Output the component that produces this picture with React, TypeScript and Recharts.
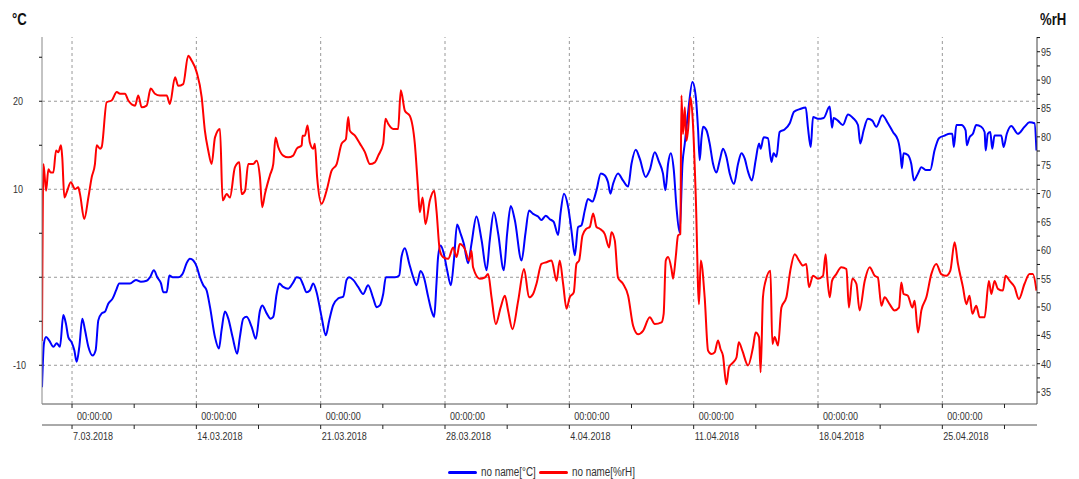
import { Line, LineChart, ReferenceLine, XAxis, YAxis } from "recharts";

const FONT = '"Liberation Sans", Arial, sans-serif';
// the labels use a narrow face; squeeze the regular one horizontally
const NARROW = 0.82;
const TEMP_COLOR = "#0000ff";
const RH_COLOR = "#ff0000";

// x values are days counted from 1 March 2018 00:00
const dayDomain: [number, number] = [4.31, 60.33];
const weekTicks = [6, 13, 20, 27, 34, 41, 48, 55];
const halfWeekTicks = [9.5, 16.5, 23.5, 30.5, 37.5, 44.5, 51.5, 58.5];
const dateLabels = [
  "7.03.2018",
  "14.03.2018",
  "21.03.2018",
  "28.03.2018",
  "4.04.2018",
  "11.04.2018",
  "18.04.2018",
  "25.04.2018",
];
const timeLabel = "00:00:00";

const tempDomain: [number, number] = [-14.4, 27.3];
const tempTicks = [-10, -5, 0, 5, 10, 15, 20, 25];
const tempLabelled = [-10, 10, 20];
const tempGrid = [-10, 0, 10, 20];

const rhDomain: [number, number] = [32.9, 97.6];
const rhTicks = [
  35, 37.5, 40, 42.5, 45, 47.5, 50, 52.5, 55, 57.5, 60, 62.5, 65, 67.5, 70,
  72.5, 75, 77.5, 80, 82.5, 85, 87.5, 90, 92.5, 95, 97.5,
];

const seriesNames = ["no name[°C]", "no name[%rH]"];

// [day, °C]
const tempReadings: [number, number][] = [
  [4.31, -12.5], [4.42, -7.5], [4.54, -6.8], [4.72, -7.2], [4.95, -7.9], [5.14, -7.5],
  [5.32, -7.9], [5.51, -4.3], [5.66, -5.3], [5.79, -6.8], [5.98, -7.4], [6.13, -8.3],
  [6.26, -9.6], [6.41, -7.9], [6.58, -4.7], [6.73, -6.0], [6.92, -7.9], [7.16, -8.9],
  [7.33, -8.3], [7.48, -4.9], [7.67, -4.1], [7.86, -3.9], [8.04, -3.0], [8.29, -2.4],
  [8.48, -1.5], [8.66, -0.7], [8.98, -0.7], [9.26, -0.7], [9.6, -0.3], [9.88, -0.5],
  [10.2, -0.4], [10.39, 0.0], [10.61, 0.8], [10.8, 0.0], [11.01, -0.7], [11.14, -1.7],
  [11.33, -1.7], [11.48, 0.2], [11.67, 0.0], [11.98, 0.0], [12.23, 0.4], [12.45, 1.6],
  [12.64, 2.1], [12.83, 1.9], [13.02, 1.2], [13.2, 0.0], [13.39, -0.9], [13.58, -1.5],
  [13.77, -3.4], [14.05, -6.8], [14.27, -8.1], [14.42, -6.0], [14.61, -3.9], [14.8, -4.7],
  [15.04, -6.8], [15.3, -8.7], [15.45, -6.8], [15.64, -4.7], [15.83, -4.5], [16.11, -5.6],
  [16.35, -7.0], [16.58, -3.8], [16.71, -3.2], [16.96, -4.1], [17.18, -4.7], [17.33, -4.5],
  [17.52, -1.9], [17.67, -0.7], [17.89, -1.1], [18.17, -1.3], [18.45, -0.6], [18.65, 0.0],
  [18.83, -0.1], [19.02, -0.9], [19.21, -1.7], [19.39, -1.5], [19.58, -0.7], [19.77, -1.7],
  [20.05, -4.5], [20.29, -6.6], [20.48, -4.9], [20.7, -3.2], [20.99, -2.4], [21.27, -2.2],
  [21.46, -0.3], [21.6, 0.0], [21.83, -0.3], [22.11, -1.1], [22.39, -1.9], [22.67, -0.9],
  [22.96, -2.4], [23.15, -3.4], [23.33, -3.2], [23.52, -1.9], [23.67, 0.0], [23.9, 0.0],
  [24.18, 0.0], [24.42, 0.2], [24.55, 2.3], [24.74, 3.3], [24.98, 1.6], [25.21, 0.0],
  [25.4, -0.9], [25.62, 0.7], [25.81, 0.0], [26.05, -2.2], [26.24, -3.8], [26.39, -4.5],
  [26.52, -0.7], [26.61, 2.3], [26.75, 3.6], [26.93, 2.7], [27.12, 0.8], [27.33, -0.9],
  [27.5, 1.9], [27.68, 6.0], [27.87, 5.0], [28.06, 3.8], [28.3, 1.6], [28.49, 3.8],
  [28.77, 6.9], [29.06, 4.2], [29.34, 0.8], [29.52, 4.2], [29.75, 7.4], [29.99, 5.0],
  [30.31, 0.8], [30.5, 5.0], [30.7, 8.1], [30.93, 6.5], [31.31, 1.9], [31.53, 5.0],
  [31.73, 7.6], [31.96, 7.2], [32.24, 6.9], [32.43, 6.5], [32.67, 7.0], [32.9, 6.6],
  [33.12, 6.3], [33.37, 4.8], [33.5, 7.2], [33.7, 9.5], [33.93, 8.0], [34.12, 5.3],
  [34.31, 2.5], [34.49, 5.7], [34.68, 5.9], [34.87, 7.6], [35.05, 8.9], [35.3, 8.6],
  [35.53, 9.9], [35.77, 11.8], [35.99, 11.6], [36.18, 10.8], [36.31, 9.5], [36.46, 10.6],
  [36.74, 11.8], [37.02, 11.0], [37.31, 10.3], [37.5, 12.9], [37.74, 14.5], [37.96, 13.5],
  [38.3, 11.4], [38.53, 12.2], [38.81, 14.2], [39.05, 13.1], [39.27, 11.8], [39.41, 9.9],
  [39.56, 12.9], [39.71, 14.1], [39.88, 12.2], [40.03, 8.0], [40.21, 5.1], [40.37, 12.9],
  [40.5, 15.2], [40.68, 18.6], [40.93, 22.2], [41.12, 20.5], [41.25, 16.7], [41.34, 13.3],
  [41.44, 15.8], [41.53, 17.1], [41.72, 16.7], [41.9, 15.2], [42.09, 12.9], [42.28, 11.9],
  [42.47, 13.3], [42.65, 14.6], [42.84, 13.7], [43.03, 11.8], [43.27, 10.6], [43.5, 12.9],
  [43.69, 14.1], [43.87, 13.5], [44.06, 12.0], [44.28, 11.0], [44.49, 13.3], [44.68, 15.2],
  [44.77, 14.6], [44.94, 15.9], [45.18, 15.8], [45.38, 13.1], [45.5, 14.1], [45.66, 13.7],
  [45.84, 16.5], [46.12, 16.8], [46.41, 17.5], [46.65, 18.8], [46.97, 19.1], [47.31, 19.3],
  [47.43, 17.1], [47.59, 14.8], [47.72, 18.2], [48.0, 18.0], [48.32, 18.1], [48.66, 19.4],
  [48.79, 17.0], [48.88, 18.1], [49.12, 17.8], [49.4, 17.3], [49.69, 18.5], [49.97, 18.1],
  [50.25, 17.3], [50.38, 15.2], [50.57, 16.7], [50.81, 18.0], [51.06, 17.8], [51.28, 17.1],
  [51.62, 18.4], [51.94, 17.5], [52.22, 16.5], [52.5, 15.6], [52.65, 13.9], [52.72, 12.4],
  [52.82, 14.1], [53.06, 13.9], [53.25, 12.9], [53.4, 11.0], [53.63, 11.8], [53.82, 12.5],
  [54.06, 12.2], [54.32, 12.2], [54.56, 14.4], [54.81, 15.8], [55.13, 16.1], [55.41, 16.3],
  [55.56, 16.3], [55.65, 14.8], [55.79, 17.3], [56.07, 17.3], [56.31, 16.7], [56.38, 15.0],
  [56.53, 15.9], [56.72, 16.3], [56.91, 17.3], [57.19, 17.1], [57.38, 16.5], [57.44, 14.4],
  [57.56, 16.3], [57.7, 16.5], [57.81, 14.6], [57.94, 16.1], [58.32, 16.1], [58.45, 14.8],
  [58.63, 16.3], [58.88, 17.2], [59.25, 16.3], [59.63, 17.1], [59.91, 17.6], [60.19, 17.5],
  [60.3, 14.4],
];

// [day, %rH]
const rhReadings: [number, number][] = [
  [4.31, 44.0], [4.39, 75.2], [4.54, 70.5], [4.67, 74.3], [4.8, 73.7], [4.95, 73.7],
  [5.1, 77.6], [5.23, 77.3], [5.38, 78.5], [5.45, 76.4], [5.57, 69.3], [5.7, 70.2],
  [5.93, 72.0], [6.17, 70.8], [6.35, 71.1], [6.45, 69.9], [6.69, 65.5], [6.92, 69.3],
  [7.11, 72.9], [7.29, 75.2], [7.39, 78.5], [7.58, 77.9], [7.67, 78.2], [7.95, 86.1],
  [8.23, 86.4], [8.52, 87.9], [8.7, 87.6], [8.98, 87.6], [9.17, 86.4], [9.55, 85.5],
  [9.73, 87.3], [9.92, 85.2], [10.2, 85.5], [10.43, 88.5], [10.67, 87.6], [10.95, 87.3],
  [11.33, 87.3], [11.51, 85.8], [11.8, 90.5], [11.98, 89.0], [12.26, 89.3], [12.54, 94.3],
  [12.74, 93.4], [13.02, 91.4], [13.3, 87.0], [13.48, 81.1], [13.67, 77.6], [13.86, 75.2],
  [14.05, 79.9], [14.33, 81.4], [14.48, 68.8], [14.71, 69.9], [14.89, 69.3], [15.17, 74.6],
  [15.42, 75.5], [15.55, 69.9], [15.74, 70.5], [15.92, 75.2], [16.2, 75.2], [16.39, 75.8],
  [16.58, 72.9], [16.71, 67.6], [16.86, 69.9], [17.14, 73.2], [17.33, 75.2], [17.46, 79.9],
  [17.61, 78.2], [17.89, 76.7], [18.17, 76.4], [18.45, 76.7], [18.65, 77.9], [18.93, 78.5],
  [18.98, 80.2], [19.11, 80.2], [19.26, 82.0], [19.39, 79.0], [19.58, 77.9], [19.67, 78.8],
  [19.8, 72.9], [20.05, 68.2], [20.33, 70.5], [20.61, 74.0], [20.9, 75.2], [21.18, 78.8],
  [21.42, 79.6], [21.55, 83.5], [21.64, 81.1], [21.93, 80.2], [22.21, 78.8], [22.49, 77.3],
  [22.77, 75.2], [23.05, 75.5], [23.24, 76.7], [23.52, 78.8], [23.65, 83.2], [23.8, 82.3],
  [24.08, 81.4], [24.36, 81.4], [24.51, 88.2], [24.74, 84.6], [25.02, 83.7], [25.3, 78.8],
  [25.49, 70.5], [25.58, 66.7], [25.74, 69.3], [25.9, 64.6], [26.15, 68.8], [26.39, 70.5],
  [26.52, 67.0], [26.71, 59.9], [26.89, 58.8], [27.18, 58.5], [27.46, 60.5], [27.65, 58.8],
  [27.83, 61.1], [28.12, 60.2], [28.36, 58.2], [28.49, 59.9], [28.58, 57.0], [28.96, 55.0],
  [29.24, 55.2], [29.43, 55.8], [29.62, 51.7], [29.86, 47.0], [30.13, 49.9], [30.37, 52.0],
  [30.55, 49.4], [30.8, 46.1], [31.12, 51.1], [31.45, 56.7], [31.73, 51.7], [31.96, 52.3],
  [32.15, 54.1], [32.43, 57.6], [32.71, 57.9], [33.0, 58.2], [33.28, 54.6], [33.46, 58.2],
  [33.65, 54.1], [33.84, 49.7], [34.02, 51.7], [34.25, 52.6], [34.4, 57.6], [34.55, 58.2],
  [34.74, 62.6], [34.96, 63.8], [35.15, 64.1], [35.34, 66.5], [35.53, 64.1], [35.71, 63.8],
  [35.99, 62.9], [36.24, 60.5], [36.37, 63.2], [36.56, 61.7], [36.74, 55.2], [37.02, 54.1],
  [37.31, 52.0], [37.59, 46.7], [37.87, 45.2], [38.15, 45.8], [38.53, 48.2], [38.81, 47.0],
  [39.19, 47.3], [39.31, 48.8], [39.43, 58.2], [39.56, 58.8], [39.75, 56.7], [39.84, 55.0],
  [39.99, 58.8], [40.12, 62.6], [40.25, 62.9], [40.31, 87.3], [40.4, 80.5], [40.5, 85.2],
  [40.59, 79.3], [40.68, 81.1], [40.83, 87.0], [40.96, 82.3], [41.12, 69.3], [41.3, 50.5],
  [41.4, 58.2], [41.62, 51.7], [41.81, 42.3], [42.0, 41.7], [42.18, 42.0], [42.37, 44.1],
  [42.51, 42.6], [42.65, 41.4], [42.84, 36.4], [42.99, 39.4], [43.21, 40.2], [43.41, 41.1],
  [43.54, 43.8], [43.74, 42.3], [44.06, 39.7], [44.34, 42.9], [44.49, 45.5], [44.68, 44.7],
  [44.77, 38.5], [44.9, 51.7], [45.05, 54.6], [45.32, 56.4], [45.43, 43.5], [45.56, 44.7],
  [45.75, 43.2], [45.94, 49.9], [46.22, 51.7], [46.44, 56.4], [46.69, 59.3], [46.93, 58.2],
  [47.15, 57.3], [47.34, 57.6], [47.49, 53.5], [47.72, 55.5], [48.0, 55.0], [48.28, 55.5],
  [48.43, 59.3], [48.53, 55.0], [48.66, 51.7], [48.79, 54.6], [49.03, 55.8], [49.31, 57.0],
  [49.6, 56.7], [49.74, 49.9], [49.93, 55.0], [50.16, 54.1], [50.34, 49.4], [50.63, 54.6],
  [50.91, 57.0], [51.19, 55.5], [51.37, 55.2], [51.57, 50.2], [51.75, 51.7], [52.03, 50.5],
  [52.31, 49.4], [52.56, 49.9], [52.69, 54.3], [52.82, 52.3], [53.06, 52.0], [53.31, 49.9],
  [53.44, 51.1], [53.63, 45.5], [53.82, 49.4], [54.1, 51.7], [54.38, 55.8], [54.66, 57.6],
  [54.94, 55.8], [55.22, 55.5], [55.45, 56.4], [55.69, 61.4], [55.88, 57.6], [56.16, 53.5],
  [56.35, 50.5], [56.53, 52.0], [56.69, 48.8], [56.91, 50.2], [57.1, 48.2], [57.38, 48.2],
  [57.62, 54.6], [57.76, 52.3], [57.94, 54.6], [58.13, 53.2], [58.41, 52.9], [58.56, 55.5],
  [58.79, 54.6], [59.07, 53.5], [59.31, 51.4], [59.63, 54.1], [59.91, 55.8], [60.1, 55.8],
  [60.3, 52.9],
];

const tempData = tempReadings.map(([t, v]) => ({ t, temp: v }));
const rhData = rhReadings.map(([t, v]) => ({ t, rh: v }));
const allDayTicks = [...weekTicks, ...halfWeekTicks].sort((a, b) => a - b);

const labelStyle = { fontFamily: FONT, fontSize: 11, fill: "#333" };

// svg text squeezed to a narrow face, anchored at its left baseline
function NarrowText({ x, y, children }: { x: number; y: number; children: any }) {
  return (
    <text transform={`translate(${x},${y}) scale(${NARROW},1)`} {...labelStyle}>
      {children}
    </text>
  );
}

function TimeTick({ x, y, payload }: any) {
  if (!weekTicks.includes(payload.value)) return <g />;
  return (
    <NarrowText x={x + 5} y={y + 10}>
      {timeLabel}
    </NarrowText>
  );
}

function DateTick({ x, y, payload }: any) {
  const i = weekTicks.indexOf(payload.value);
  if (i < 0) return <g />;
  return (
    <NarrowText x={x + 1} y={y + 9}>
      {dateLabels[i]}
    </NarrowText>
  );
}

function TempTick({ x, y, payload }: any) {
  if (!tempLabelled.includes(payload.value)) return <g />;
  return (
    <NarrowText x={x - 24} y={y + 4}>
      {payload.value}
    </NarrowText>
  );
}

function RhTick({ x, y, payload }: any) {
  if (payload.value % 5 !== 0) return <g />;
  return (
    <NarrowText x={x} y={y + 4}>
      {payload.value}
    </NarrowText>
  );
}

const narrowHtml = {
  display: "inline-block",
  transform: `scaleX(${NARROW})`,
  transformOrigin: "left center",
};

export default function App() {
  return (
    <div
      style={{
        position: "absolute",
        left: 0,
        top: 0,
        width: 1079,
        height: 479,
        background: "#fff",
        fontFamily: FONT,
      }}
    >
      <div style={{ position: "absolute", left: 12, top: 11, fontSize: 16, fontWeight: "bold", color: "#111" }}>
        <span style={narrowHtml}>°C</span>
      </div>
      <div style={{ position: "absolute", left: 1040, top: 11, fontSize: 16, fontWeight: "bold", color: "#111" }}>
        <span style={narrowHtml}>%rH</span>
      </div>

      <LineChart width={1079} height={479} margin={{ top: 37, right: 0, bottom: 34, left: 0 }}>
        {/* clock row sits against the plot, calendar dates below it */}
        <XAxis
          xAxisId="clock"
          dataKey="t"
          type="number"
          domain={dayDomain}
          allowDataOverflow
          ticks={allDayTicks}
          interval={0}
          height={21}
          tickSize={4}
          stroke="#555"
          tickLine={{ stroke: "#222" }}
          tick={<TimeTick />}
        />
        <XAxis
          xAxisId="day"
          dataKey="t"
          type="number"
          domain={dayDomain}
          allowDataOverflow
          ticks={allDayTicks}
          interval={0}
          height={20}
          tickSize={4}
          stroke="#555"
          tickLine={{ stroke: "#222" }}
          tick={<DateTick />}
        />
        <YAxis
          yAxisId="temp"
          type="number"
          domain={tempDomain}
          allowDataOverflow
          ticks={tempTicks}
          interval={0}
          width={42}
          tickSize={3}
          stroke="#888"
          tickLine={{ stroke: "#111" }}
          tick={<TempTick />}
        />
        <YAxis
          yAxisId="rh"
          orientation="right"
          type="number"
          domain={rhDomain}
          allowDataOverflow
          ticks={rhTicks}
          interval={0}
          width={42}
          tickSize={3}
          tickMargin={1}
          stroke="#444"
          tickLine={{ stroke: "#111" }}
          tick={<RhTick />}
        />

        {tempGrid.map((v) => (
          <ReferenceLine
            key={`h${v}`}
            xAxisId="clock"
            yAxisId="temp"
            y={v}
            stroke="#999"
            strokeDasharray="3 3"
          />
        ))}
        {weekTicks.map((d) => (
          <ReferenceLine
            key={`v${d}`}
            xAxisId="clock"
            yAxisId="temp"
            x={d}
            stroke="#999"
            strokeDasharray="3 3"
          />
        ))}

        <Line
          xAxisId="clock"
          yAxisId="temp"
          data={tempData}
          dataKey="temp"
          name={seriesNames[0]}
          type="monotone"
          stroke={TEMP_COLOR}
          strokeWidth={2}
          dot={false}
          isAnimationActive={false}
        />
        <Line
          xAxisId="clock"
          yAxisId="rh"
          data={rhData}
          dataKey="rh"
          name={seriesNames[1]}
          type="monotone"
          stroke={RH_COLOR}
          strokeWidth={2}
          dot={false}
          isAnimationActive={false}
        />
      </LineChart>

      <div
        style={{
          position: "absolute",
          left: 0,
          top: 465,
          width: 1079,
          display: "flex",
          justifyContent: "center",
          alignItems: "center",
          fontSize: 12,
          color: "#333",
          gap: 4,
        }}
      >
        {seriesNames.map((name, i) => (
          <div key={name} style={{ display: "flex", alignItems: "center", gap: 4 }}>
            <span
              style={{
                display: "inline-block",
                width: 29,
                height: 3,
                borderRadius: 2,
                background: i === 0 ? TEMP_COLOR : RH_COLOR,
              }}
            />
            <span style={{ ...narrowHtml, width: name.length * 4.9, whiteSpace: "nowrap" }}>{name}</span>
          </div>
        ))}
      </div>
    </div>
  );
}
